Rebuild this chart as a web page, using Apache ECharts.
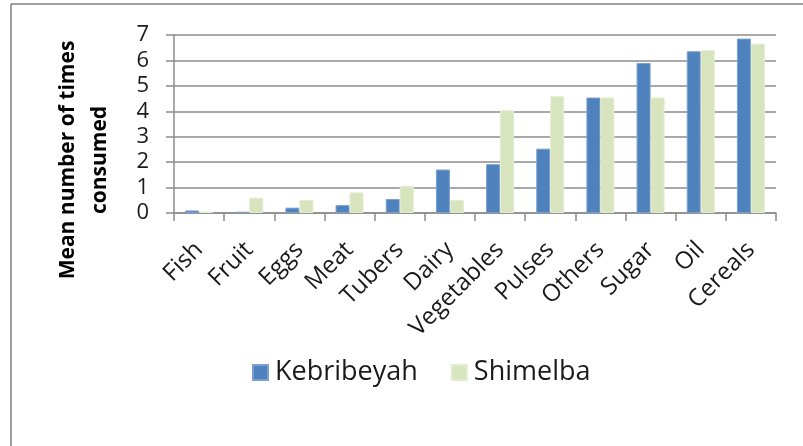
<!DOCTYPE html>
<html>
<head>
<meta charset="utf-8">
<script src="https://cdn.jsdelivr.net/npm/echarts@6/dist/echarts.min.js"></script>
<style>
  html, body { margin: 0; padding: 0; background: #ffffff; }
  #chart { width: 803px; height: 446px; }
</style>
</head>
<body>
<div id="chart"></div>
<script>
// Food groups, ordered by consumption frequency
const categories = ['Fish', 'Fruit', 'Eggs', 'Meat', 'Tubers', 'Dairy', 'Vegetables', 'Pulses', 'Others', 'Sugar', 'Oil', 'Cereals'];
// Mean number of times consumed, per camp
const kebribeyah = [0.10, 0.05, 0.21, 0.31, 0.55, 1.71, 1.92, 2.53, 4.54, 5.90, 6.36, 6.86];
const shimelba   = [0.05, 0.60, 0.51, 0.81, 1.07, 0.51, 4.04, 4.59, 4.54, 4.54, 6.41, 6.66];
const seriesNames = ['Kebribeyah', 'Shimelba'];
const yTicks = [0, 1, 2, 3, 4, 5, 6, 7];
const yTitle = 'Mean number of times\nconsumed';

const FONT = '"Open Sans", "DejaVu Sans", sans-serif';
const GRID = '#8c8c8c';

const chart = echarts.init(document.getElementById('chart'), null, { renderer: 'canvas' });

chart.setOption({
  animation: false,
  backgroundColor: '#ffffff',
  textStyle: { fontFamily: FONT },
  grid: { left: 174, right: 27, top: 35, height: 178, containLabel: false },
  legend: {
    data: seriesNames,
    left: 247,
    top: 354,
    itemWidth: 15,
    itemHeight: 15,
    itemGap: 33,
    icon: 'rect',
    textStyle: { fontFamily: FONT, fontSize: 27, color: '#1a1a1a', padding: [0, 0, 0, 2] }
  },
  xAxis: {
    type: 'category',
    data: categories,
    boundaryGap: true,
    axisLine: { lineStyle: { color: GRID, width: 1.5 } },
    axisTick: { show: true, length: 8, inside: false, lineStyle: { color: GRID, width: 1.5 } },
    axisLabel: {
      interval: 0,
      rotate: 45,
      margin: 33,
      fontFamily: FONT,
      fontSize: 24,
      color: '#1a1a1a'
    }
  },
  yAxis: {
    type: 'value',
    min: yTicks[0],
    max: yTicks[yTicks.length - 1],
    interval: 1,
    axisLine: { show: true, lineStyle: { color: GRID, width: 1.5 } },
    axisTick: { show: true, length: 8, lineStyle: { color: GRID, width: 1.5 } },
    axisLabel: { margin: 25, fontFamily: FONT, fontSize: 22, color: '#1a1a1a' },
    splitLine: { show: true, lineStyle: { color: GRID, width: 1.5 } }
  },
  series: [
    {
      name: seriesNames[0],
      type: 'bar',
      data: kebribeyah,
      barWidth: 14,
      barGap: '0%',
      itemStyle: { color: '#4f81bd', borderColor: '#7aa0d0', borderWidth: 1 }
    },
    {
      name: seriesNames[1],
      type: 'bar',
      data: shimelba,
      barWidth: 14,
      barGap: '0%',
      itemStyle: { color: '#d7e4bd', borderColor: '#e3ecd0', borderWidth: 1 }
    }
  ],
  graphic: [
    // Outer frame of the figure box
    { type: 'line', shape: { x1: 11, y1: 4, x2: 803, y2: 4 }, style: { stroke: '#7f7f7f', lineWidth: 1.5 } },
    { type: 'line', shape: { x1: 11, y1: 4, x2: 11, y2: 446 }, style: { stroke: '#7f7f7f', lineWidth: 1.5 } },
    // Vertical axis title
    {
      type: 'text',
      x: 84,
      y: 160,
      rotation: Math.PI / 2,
      style: {
        text: yTitle,
        fontFamily: FONT,
        fontSize: 21,
        fontWeight: 'bold',
        lineHeight: 32,
        fill: '#000000',
        align: 'center',
        verticalAlign: 'middle'
      }
    }
  ]
});
</script>
</body>
</html>
